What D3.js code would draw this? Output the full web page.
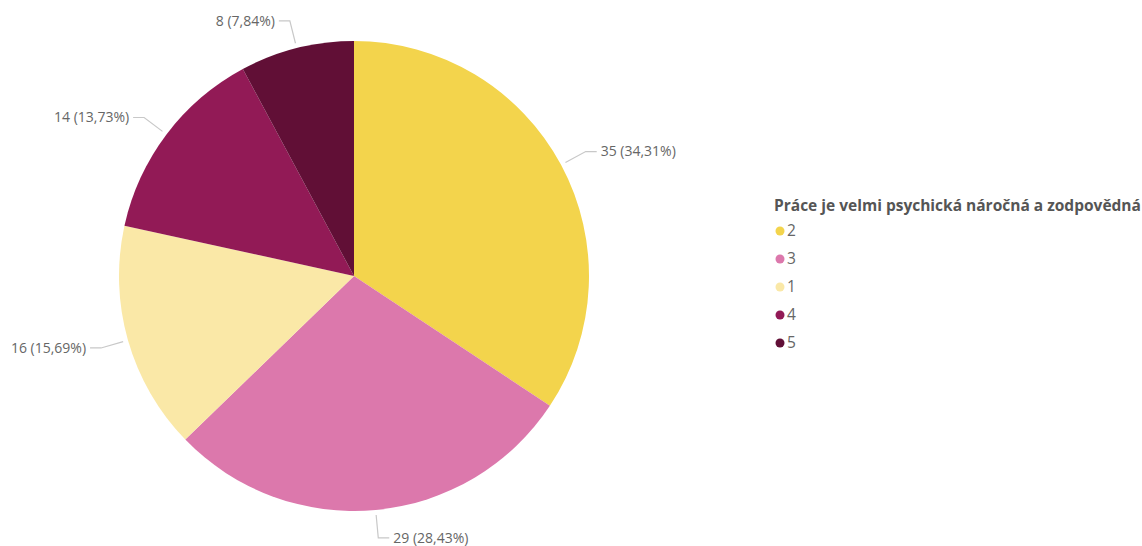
<!DOCTYPE html>
<html>
<head>
<meta charset="utf-8">
<script src="https://cdn.jsdelivr.net/npm/d3@7/dist/d3.min.js"></script>
<style>
  html, body { margin: 0; padding: 0; background: #fff; }
  svg { display: block; }
  text { font-family: "Segoe UI", "Open Sans", "Noto Sans", sans-serif; }
</style>
</head>
<body>
<svg id="chart" width="1142" height="546"></svg>
<script>
// Answers to "Práce je velmi psychická náročná a zodpovědná", in pie order
const categories = ["2", "3", "1", "4", "5"];
const counts = [35, 29, 16, 14, 8];
const colors = ["#F3D44C", "#DC78AC", "#FAE8A7", "#921A56", "#610F36"];
const legendTitle = "Práce je velmi psychická náročná a zodpovědná";

const svg = d3.select("#chart");
const cx = 354, cy = 276, radius = 235;
const total = d3.sum(counts);

const data = categories.map((c, i) => ({ cat: c, value: counts[i], color: colors[i] }));

const pie = d3.pie().value(d => d.value).sort(null);
const arcs = pie(data);
const arc = d3.arc().innerRadius(0).outerRadius(radius);

const g = svg.append("g").attr("transform", `translate(${cx},${cy})`);

g.selectAll("path.slice")
  .data(arcs)
  .enter().append("path")
  .attr("class", "slice")
  .attr("d", arc)
  .attr("fill", d => d.data.color);

// Leader lines: radial segment, then a short horizontal tail toward the label
const startArc = d3.arc().innerRadius(radius + 5).outerRadius(radius + 5);
const elbowArc = d3.arc().innerRadius(radius + 28).outerRadius(radius + 28);
const tail = 11, gap = 4;
const fmt = v => (v / total * 100).toFixed(2).replace(".", ",");

arcs.forEach(d => {
  const mid = (d.startAngle + d.endAngle) / 2;
  const p0 = startArc.centroid(d);
  const p1 = elbowArc.centroid(d);
  const side = Math.sin(mid) >= 0 ? 1 : -1;
  const p2 = [p1[0] + side * tail, p1[1]];
  g.append("polyline")
    .attr("points", [p0, p1, p2].map(p => p.join(",")).join(" "))
    .attr("fill", "none")
    .attr("stroke", "#c8c8c8")
    .attr("stroke-width", 1.2);
  g.append("text")
    .attr("x", p2[0] + side * gap)
    .attr("y", p2[1])
    .attr("dy", "0.35em")
    .attr("text-anchor", side > 0 ? "start" : "end")
    .attr("font-size", 14)
    .attr("fill", "#666666")
    .text(`${d.data.value} (${fmt(d.data.value)}%)`);
});

// Legend
const legend = svg.append("g").attr("transform", "translate(774,0)");
legend.append("text")
  .attr("x", 0).attr("y", 206)
  .attr("dy", "0.35em")
  .attr("font-size", 15.5)
  .attr("font-weight", "bold")
  .attr("fill", "#555555")
  .text(legendTitle);

const item = legend.selectAll("g.item")
  .data(data)
  .enter().append("g")
  .attr("class", "item")
  .attr("transform", (d, i) => `translate(0,${231 + i * 28})`);
item.append("circle").attr("cx", 6).attr("cy", 0).attr("r", 4.5).attr("fill", d => d.color);
item.append("text")
  .attr("x", 13).attr("y", 0).attr("dy", "0.35em")
  .attr("font-size", 15.5)
  .attr("fill", "#666666")
  .text(d => d.cat);
</script>
</body>
</html>
